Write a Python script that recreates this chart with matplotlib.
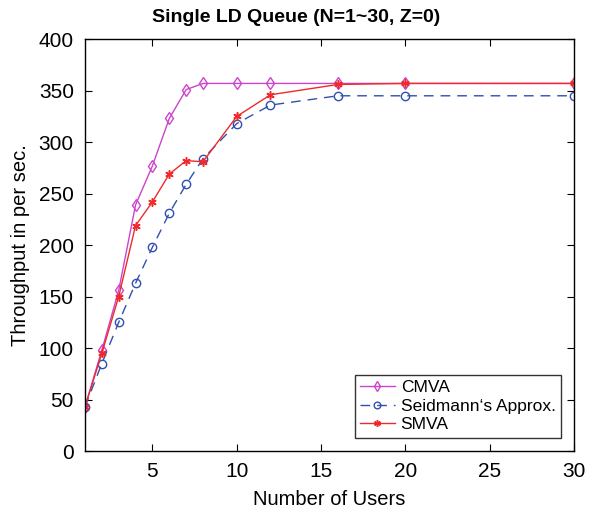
import matplotlib
matplotlib.use("Agg")
import matplotlib.pyplot as plt

plt.rcParams['font.family'] = ['Liberation Sans', 'DejaVu Sans']

users = [1, 2, 3, 4, 5, 6, 7, 8, 10, 12, 16, 20, 30]
cmva = [43, 98, 156, 239, 277, 323, 351, 357, 357, 357, 357, 357, 357]
seidmann = [43, 85, 125, 163, 198, 231, 259, 284, 318, 336, 345, 345, 345]
smva = [43, 95, 150, 219, 242, 269, 282, 281, 325, 346, 356, 357, 357]

fig = plt.figure(figsize=(5.9, 5.15), dpi=100)
ax = fig.add_axes([0.144, 0.124, 0.829, 0.800])

ax.plot(users, cmva, color='#CC44CC', lw=1, marker='d', ms=6, mfc='none', mec='#CC44CC', label='CMVA')
ax.plot(users, seidmann, color='#3050B0', lw=1, ls=(0, (7, 5)), marker='o', ms=6, mfc='none', mec='#3050B0', label="Seidmann‘s Approx.")
ax.plot(users, smva, color='#EE2A2A', lw=1, marker=(6, 2, 0), ms=6, mew=1.1, label='SMVA')

ax.set_xlim(1, 30)
ax.set_ylim(0, 400)
ax.set_xticks([5, 10, 15, 20, 25, 30])
ax.set_yticks(range(0, 401, 50))
ax.tick_params(direction='in', top=True, right=True, labelsize=15, length=5)
ax.tick_params(axis='y', pad=8)
ax.tick_params(axis='x', pad=8)
for s in ax.spines.values():
    s.set_linewidth(1)

ax.set_xlabel('Number of Users', fontsize=14.5, labelpad=6)
ax.set_ylabel('Throughput in per sec.', fontsize=14.5, labelpad=6)
fig.text(296 / 590, 1 - 17 / 515, 'Single LD Queue (N=1~30, Z=0)', fontsize=14, fontweight='bold',
         ha='center', va='center')

leg = ax.legend(loc='lower right', bbox_to_anchor=(0.973, 0.033), fontsize=12.5, frameon=True, fancybox=False,
                edgecolor='black', borderpad=0.3, labelspacing=0.2, handlelength=2.0, handletextpad=0.35,
                borderaxespad=0, markerscale=0.8)
leg.get_frame().set_linewidth(1)

fig.savefig('out.png', dpi=100)
